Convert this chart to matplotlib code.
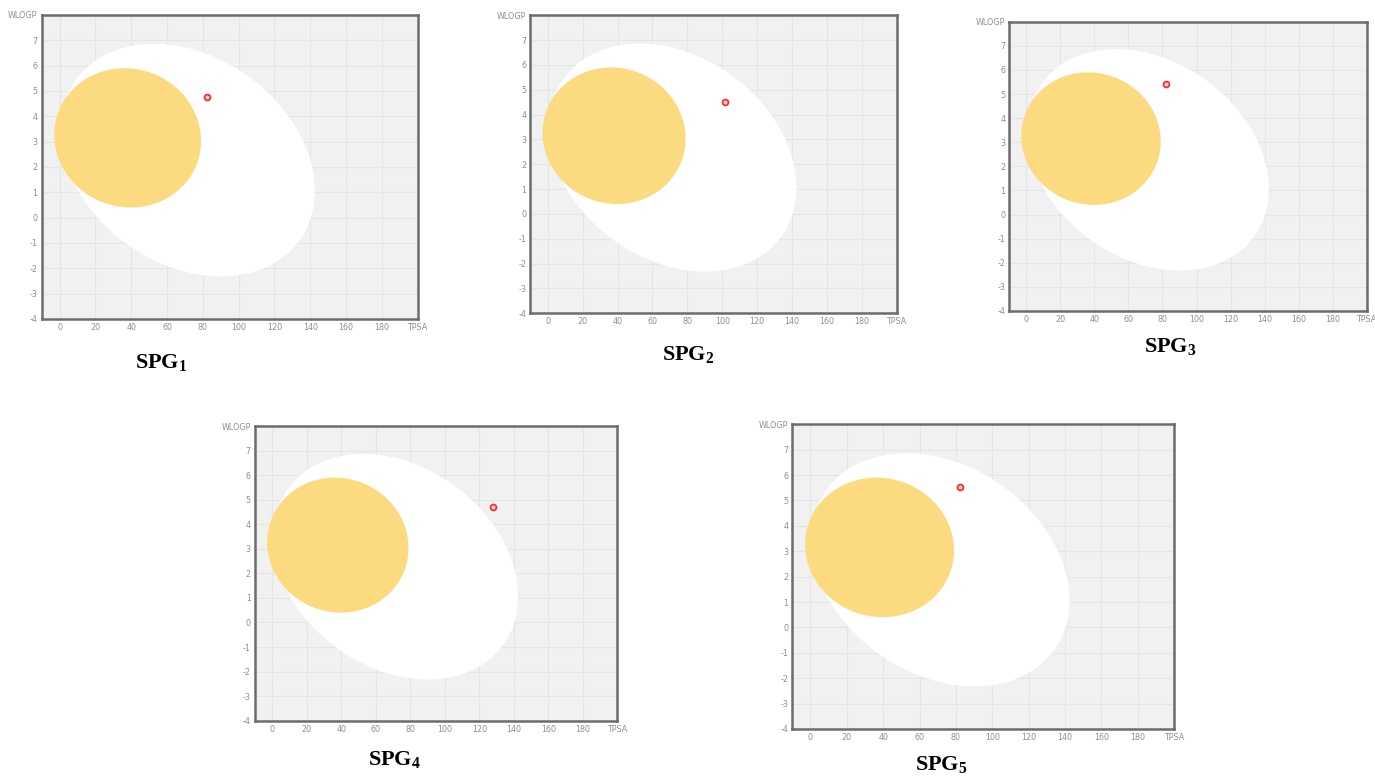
#!/usr/bin/env python3
"""BOILED-Egg panels (WLOGP vs TPSA) for compounds SPG1..SPG5."""

import matplotlib
matplotlib.use("Agg")
import matplotlib.pyplot as plt
import numpy as np

plt.rcParams["mathtext.fontset"] = "custom"
plt.rcParams["mathtext.rm"] = "Liberation Serif:bold"
plt.rcParams["mathtext.bf"] = "Liberation Serif:bold"

# Compound positions (TPSA, WLOGP).
names = ["SPG1", "SPG2", "SPG3", "SPG4", "SPG5"]
tpsa = [82.1, 101.7, 81.9, 127.9, 82.2]
wlogp = [4.77, 4.50, 5.43, 4.70, 5.53]

# Egg regions: centre x, centre y, semi-axes (in TPSA units) and tilt.
white_egg = (71.5, 2.27, 77.0, 58.0, -36.0)
yolk = (38.0, 3.15, 41.3, 38.7, -20.6)

xticks = list(range(0, 181, 20))
yticks = list(range(-4, 8))

W, H = 1375, 776
# panel frames in pixels: left, top, right, bottom
frames = [
    (41.7, 15.0, 417.7, 319.0),
    (530.3, 15.3, 896.7, 313.3),
    (1009.3, 21.7, 1366.7, 311.0),
    (255.0, 426.0, 617.3, 720.7),
    (792.3, 424.3, 1174.0, 729.0),
]
# label centres in pixels
label_xy = [(161, 363), (688, 355), (1170, 347), (394, 760), (941, 765)]

K = 14.2  # visual y/x scale of the plot


def ellipse(cx, cy, a, b, ang, n=300):
    t = np.radians(ang)
    phi = np.linspace(0, 2 * np.pi, n)
    X = a * np.cos(phi)
    Y = b * np.sin(phi)
    xr = X * np.cos(t) - Y * np.sin(t)
    yr = X * np.sin(t) + Y * np.cos(t)
    return cx + xr, cy + yr / K


fig = plt.figure(figsize=(W / 100, H / 100), dpi=100)

for i, (l, t, r, b) in enumerate(frames):
    ax = fig.add_axes([l / W, 1 - b / H, (r - l) / W, (b - t) / H])
    ax.set_facecolor("#f1f1f1")
    ax.set_xlim(-10, 200)
    ax.set_ylim(-4, 8)
    ax.set_xticks(xticks + [200])
    ax.set_xticklabels([str(v) for v in xticks] + ["TPSA"])
    ax.set_yticks(yticks + [8])
    ax.set_yticklabels([str(v) for v in yticks] + ["WLOGP"])
    ax.tick_params(length=0, labelsize=5.8, labelcolor="#8e8e8e")
    ax.tick_params(axis="x", pad=3)
    ax.tick_params(axis="y", pad=3)
    ax.grid(True, color="#e5e5e5", lw=0.8)
    ax.set_axisbelow(True)
    for s in ax.spines.values():
        s.set_color("#6c6c6c")
        s.set_linewidth(1.8)

    ex, ey = ellipse(*white_egg)
    ax.fill(ex, ey, color="white", zorder=2, lw=0)
    yx, yy = ellipse(*yolk)
    ax.fill(yx, yy, color="#fcdb80", zorder=3, lw=0)

    ax.plot(tpsa[i], wlogp[i], "o", ms=4.2, mfc="#ffd6d6", mec="#ff2a2a",
            mew=1.3, zorder=5)

    lx, ly = label_xy[i]
    fig.text(lx / W, 1 - ly / H, names[i][:3] + "$_{%s}$" % names[i][3:],
             ha="center", va="center", fontsize=16, fontweight="bold",
             family="Liberation Serif")

fig.savefig("out.png", dpi=100)
